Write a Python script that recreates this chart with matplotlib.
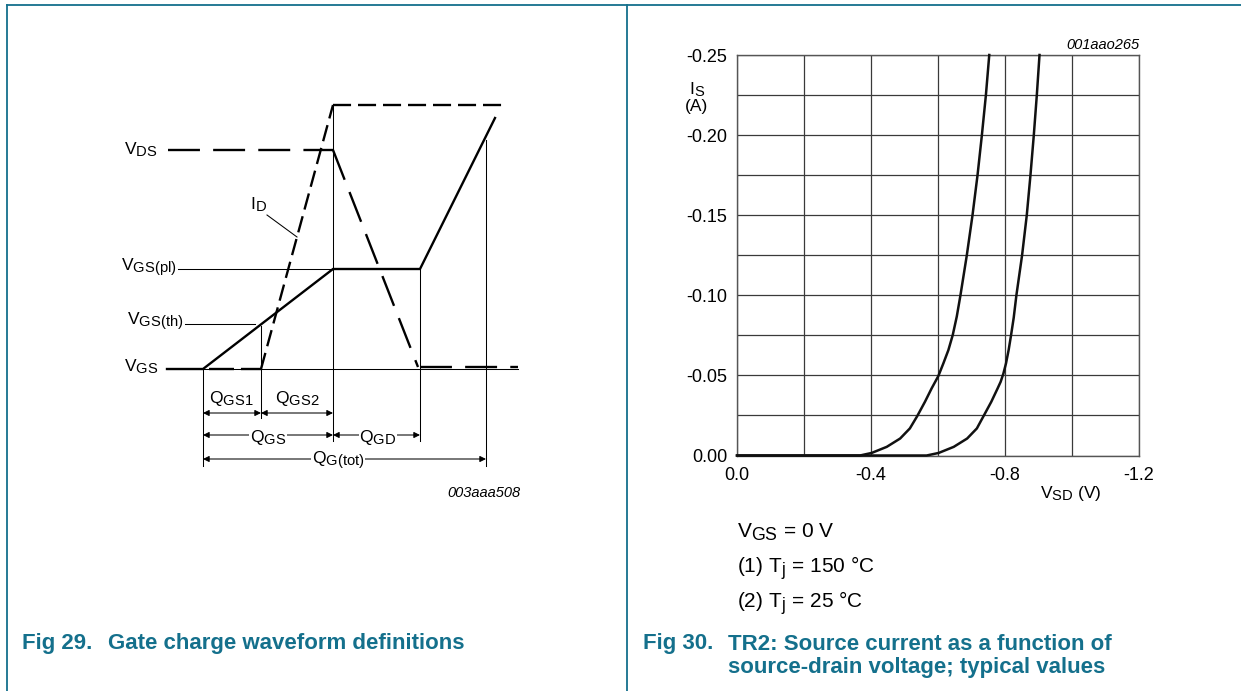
import numpy as np
import matplotlib
matplotlib.use("Agg")
import matplotlib.pyplot as plt
import matplotlib._mathtext as mt

plt.rcParams['font.family'] = ['Liberation Sans', 'DejaVu Sans']
plt.rcParams['mathtext.fontset'] = 'custom'
plt.rcParams['mathtext.rm'] = 'Liberation Sans'
plt.rcParams['mathtext.it'] = 'Liberation Sans:italic'
plt.rcParams['lines.scale_dashes'] = False
mt.SHRINK_FACTOR = 0.85  # datasheet subscripts are only slightly smaller

TEAL = '#14708c'

# Fig 30 data: source current vs source-drain voltage
vsd_150 = [0.0, -0.30, -0.367, -0.402, -0.447, -0.487, -0.516, -0.538, -0.561, -0.581, -0.601,
           -0.616, -0.631, -0.644, -0.656, -0.667, -0.686, -0.703, -0.718, -0.731, -0.743, -0.753]
is_150 = [0.0, 0.0, 0.0, -0.0016, -0.0054, -0.0106, -0.0169, -0.0246, -0.0335, -0.0419, -0.0496,
          -0.0575, -0.0658, -0.0752, -0.0867, -0.10, -0.125, -0.15, -0.175, -0.20, -0.225, -0.25]
vsd_25 = [0.0, -0.50, -0.566, -0.602, -0.647, -0.687, -0.716, -0.737, -0.759, -0.778, -0.787,
          -0.795, -0.803, -0.811, -0.818, -0.826, -0.834, -0.851, -0.865, -0.876, -0.886, -0.895, -0.903]
is_25 = [0.0, 0.0, 0.0, -0.0016, -0.0054, -0.0106, -0.0169, -0.025, -0.0335, -0.0419, -0.046,
         -0.051, -0.0575, -0.066, -0.075, -0.086, -0.10, -0.125, -0.15, -0.175, -0.20, -0.225, -0.25]
x_ticks = [0.0, -0.4, -0.8, -1.2]
x_tick_labels = ['0.0', '-0.4', '-0.8', '-1.2']
x_minor = [-0.2, -0.6, -1.0]
y_ticks = [0.0, -0.05, -0.10, -0.15, -0.20, -0.25]
y_tick_labels = ['0.00', '-0.05', '-0.10', '-0.15', '-0.20', '-0.25']
y_minor = [-0.025, -0.075, -0.125, -0.175, -0.225]

# Fig 29 schematic: charge positions and levels (in drawing units)
q_start, q_th, q_pl1, q_pl2, q_tot = 203, 261, 333, 420, 486
lvl_base, lvl_th, lvl_pl, lvl_vds, lvl_id = 369, 324, 269, 150, 105
lvl_vds_on = 367
vgs_x = [167, q_start, q_pl1, q_pl2, 495]
vgs_y = [lvl_base, lvl_base, lvl_pl, lvl_pl, 118]

W, H = 1241, 691
fig = plt.figure(figsize=(W / 100, H / 100), dpi=100)

# overlay for page frame and the schematic
ov = fig.add_axes([0, 0, 1, 1])
ov.set_xlim(0, W)
ov.set_ylim(H, 0)
ov.axis('off')

ov.plot([7, W], [5, 5], color=TEAL, lw=1.3)
ov.plot([7, 7], [5, H], color=TEAL, lw=1.3)
ov.plot([627, 627], [5, H], color=TEAL, lw=1.3)

# schematic lines
thick = dict(color='k', lw=1.7)
ov.plot(vgs_x, vgs_y, solid_joinstyle='miter', **thick)
vds_dash = (23, 9.5)
ov.plot([168, q_pl1], [lvl_vds, lvl_vds], dashes=vds_dash, **thick)
ov.plot([q_pl1, q_pl2 - 2], [lvl_vds, lvl_vds_on], dashes=vds_dash, **thick)
ov.plot([q_pl2, 518], [lvl_vds_on, lvl_vds_on], dashes=vds_dash, **thick)
ov.plot([q_start + 6, q_th], [lvl_base, lvl_base], dashes=(18, 5), **thick)
ov.plot([q_th, q_pl1], [lvl_base, lvl_id], dashes=(12, 5), **thick)
ov.plot([q_pl1, 503], [lvl_id, lvl_id], dashes=(13, 5), **thick)

thin = dict(color='k', lw=0.75)
ov.plot([167, 518], [lvl_base, lvl_base], **thin)
ov.plot([178, q_pl1], [lvl_pl, lvl_pl], **thin)
ov.plot([185, 255], [lvl_th, lvl_th], **thin)
ov.plot([q_th, q_th], [lvl_th + 2, 418], **thin)
ov.plot([q_start, q_start], [lvl_base, 466], **thin)
ov.plot([q_pl1, q_pl1], [lvl_id, 441], **thin)
ov.plot([q_pl2, q_pl2], [lvl_pl, 441], **thin)
ov.plot([q_tot, q_tot], [140, 466], **thin)
ov.plot([267, 297], [215, 237], **thin)


def dim_arrow(x0, x1, y):
    ov.annotate('', xy=(x1, y), xytext=(x0, y),
                arrowprops=dict(arrowstyle='<|-|>', lw=0.75, color='k',
                                mutation_scale=9, shrinkA=0, shrinkB=0))


dim_arrow(q_start, q_th, 413)
dim_arrow(q_th, q_pl1, 413)
dim_arrow(q_start, q_pl1, 435)
dim_arrow(q_pl1, q_pl2, 435)
dim_arrow(q_start, q_tot, 459)

fs = 12.5
ov.text(158, 150, r'$\mathregular{V_{DS}}$', ha='right', va='center', fontsize=fs)
ov.text(250, 205, r'$\mathregular{I_{D}}$', ha='left', va='center', fontsize=fs)
ov.text(177, 268, r'$\mathregular{V_{GS(pl)}}$', ha='right', va='center', fontsize=fs)
ov.text(183, 322, r'$\mathregular{V_{GS(th)}}$', ha='right', va='center', fontsize=fs)
ov.text(158, 367, r'$\mathregular{V_{GS}}$', ha='right', va='center', fontsize=fs)
ov.text(231, 398, r'$\mathregular{Q_{GS1}}$', ha='center', va='center', fontsize=fs)
ov.text(297, 398, r'$\mathregular{Q_{GS2}}$', ha='center', va='center', fontsize=fs)
bg = dict(facecolor='white', edgecolor='none', pad=0.5)
ov.text(268, 437, r'$\mathregular{Q_{GS}}$', ha='center', va='center', fontsize=fs, bbox=bg)
ov.text(378, 437, r'$\mathregular{Q_{GD}}$', ha='center', va='center', fontsize=fs, bbox=bg)
ov.text(338, 461, r'$\mathregular{Q_{G(tot)}}$', ha='center', va='center', fontsize=fs, bbox=bg)
ov.text(520, 493, '003aaa508', ha='right', va='center', fontsize=10.5, style='italic')

# captions
cap = dict(color=TEAL, fontsize=16, fontweight='bold', va='center', ha='left')
ov.text(22, 643, 'Fig 29.', **cap)
ov.text(108, 643, 'Gate charge waveform definitions', **cap)
ov.text(643, 644, 'Fig 30.', **cap)
ov.text(728, 644, 'TR2: Source current as a function of', **cap)
ov.text(728, 667, 'source-drain voltage; typical values', **cap)

# conditions
cfs = 15
ov.text(737, 532, r'$\mathregular{V_{GS}}$ = 0 V', ha='left', va='center', fontsize=cfs)
ov.text(737, 568, r'(1) $\mathregular{T_j}$ = 150 °C', ha='left', va='center', fontsize=cfs)
ov.text(737, 603, r'(2) $\mathregular{T_j}$ = 25 °C', ha='left', va='center', fontsize=cfs)

# Fig 30 chart
x0, x1, y0, y1 = 737, 1139, 55, 455.5
ax = fig.add_axes([x0 / W, 1 - y1 / H, (x1 - x0) / W, (y1 - y0) / H])
ax.set_xlim(0, -1.2)
ax.set_ylim(0, -0.25)
ax.set_xticks(x_ticks)
ax.set_xticklabels(x_tick_labels)
ax.set_xticks(x_minor, minor=True)
ax.set_yticks(y_ticks)
ax.set_yticklabels(y_tick_labels)
ax.set_yticks(y_minor, minor=True)
ax.grid(True, which='both', color='#3a3a3a', lw=0.9)
ax.tick_params(which='both', length=0, labelsize=13)
ax.tick_params(axis='x', pad=8)
ax.tick_params(axis='y', pad=7)
for s in ax.spines.values():
    s.set_color('#555555')
    s.set_linewidth(1.0)
ax.set_axisbelow(True)

ax.plot(vsd_150, is_150, color='#111111', lw=1.8, clip_on=False, zorder=3,
        solid_joinstyle='round')
ax.plot(vsd_25, is_25, color='#111111', lw=1.8, clip_on=False, zorder=3,
        solid_joinstyle='round')

ov.text(953, 236, '(1)', ha='center', va='center', fontsize=10)
ov.text(1041, 236, '(2)', ha='center', va='center', fontsize=10)
ov.text(697, 90, r'$\mathregular{I_S}$', ha='center', va='center', fontsize=12.5)
ov.text(697, 106, '(A)', ha='center', va='center', fontsize=12.5)
ov.text(1071, 493, r'$\mathregular{V_{SD}}$ (V)', ha='center', va='center', fontsize=12.5)
ov.text(1139, 45, '001aao265', ha='right', va='center', fontsize=10.5, style='italic')

fig.savefig('out.png', dpi=100)
